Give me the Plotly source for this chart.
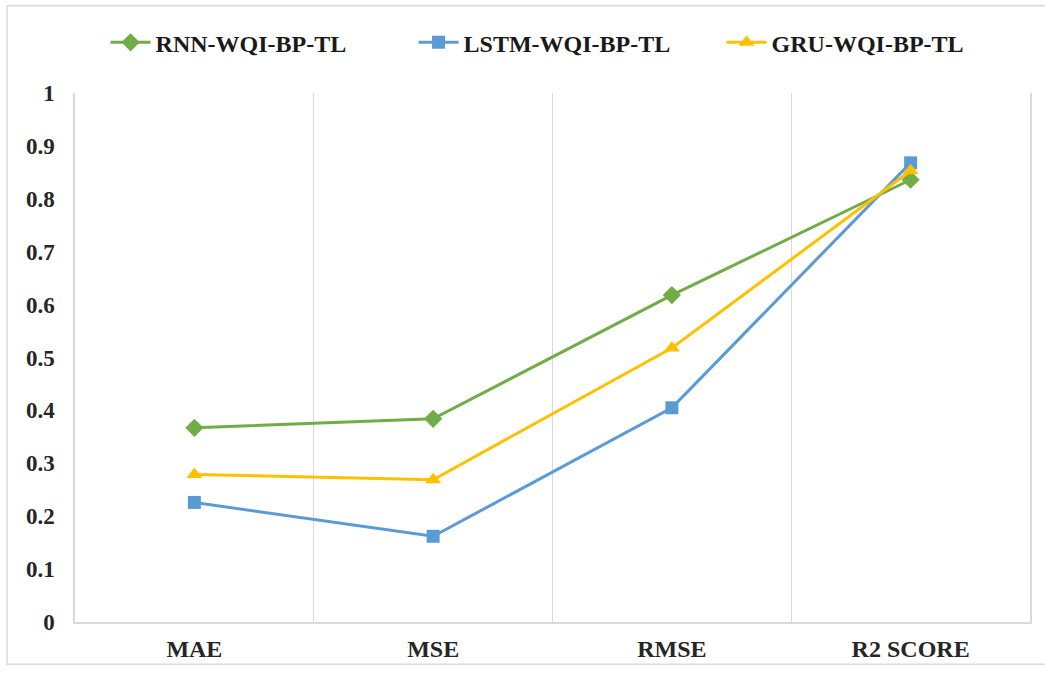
import plotly.graph_objects as go

# Evaluation metrics compared across the three transfer-learning models
metrics = ["MAE", "MSE", "RMSE", "R2 SCORE"]
rnn_scores = [0.367, 0.384, 0.618, 0.836]
lstm_scores = [0.226, 0.162, 0.405, 0.868]
gru_scores = [0.279, 0.269, 0.518, 0.853]
y_ticks = [0, 0.1, 0.2, 0.3, 0.4, 0.5, 0.6, 0.7, 0.8, 0.9, 1]

series = [
    ("RNN-WQI-BP-TL", rnn_scores, "#70AD47", "diamond", 14),
    ("LSTM-WQI-BP-TL", lstm_scores, "#5B9BD5", "square", 13),
    ("GRU-WQI-BP-TL", gru_scores, "#FFC000", "triangle-up", 14),
]

positions = list(range(len(metrics)))
boundaries = [p + 0.5 for p in positions[:-1]]

fig = go.Figure()
for name, values, color, symbol, size in series:
    fig.add_trace(go.Scatter(
        x=positions, y=values, name=name, mode="lines+markers",
        line=dict(color=color, width=3),
        marker=dict(symbol=symbol, size=size, color=color),
    ))

serif = "Liberation Serif, Times New Roman, serif"

fig.update_layout(
    width=1045, height=674,
    margin=dict(l=75, r=15, t=93, b=41),
    paper_bgcolor="white", plot_bgcolor="white",
    showlegend=True,
    legend=dict(
        orientation="h", x=0.032, xanchor="left", y=1.095, yanchor="middle",
        font=dict(family=serif, size=24, color="#1a1a1a", weight="bold"),
        entrywidth=253, entrywidthmode="pixels",
        itemwidth=40, tracegroupgap=0,
    ),
    xaxis=dict(
        range=[-0.5, len(metrics) - 0.5],
        tickmode="array", tickvals=positions, ticktext=metrics,
        tickfont=dict(family=serif, size=24, color="#262626", weight="bold"),
        ticklabelstandoff=4,
        showgrid=False, zeroline=False,
        showline=True, linecolor="#d9d9d9", linewidth=1.5,
        ticks="",
        minor=dict(tickmode="array", tickvals=boundaries, showgrid=True,
                   gridcolor="#d9d9d9", gridwidth=1.2, ticks=""),
    ),
    yaxis=dict(
        range=[0, 1], tickmode="array", tickvals=y_ticks,
        tickfont=dict(family=serif, size=23, color="#262626", weight="bold"),
        ticklabelstandoff=14,
        showgrid=False, zeroline=False,
        showline=True, mirror=True, linecolor="#d9d9d9", linewidth=1.5,
        ticks="",
    ),
    shapes=[dict(
        type="rect", xref="paper", yref="paper",
        x0=-0.0712, x1=1.06, y0=-0.08, y1=1.165,
        line=dict(color="#d9d9d9", width=1.5), fillcolor="rgba(0,0,0,0)",
        layer="below",
    )],
)

fig.write_html("out.html")
